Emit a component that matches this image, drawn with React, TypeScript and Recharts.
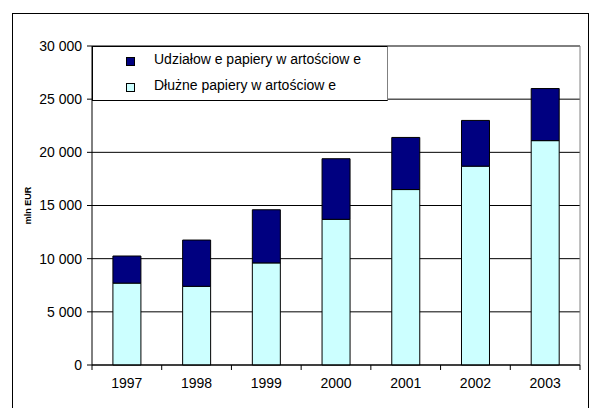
import { BarChart, Bar, XAxis, YAxis, CartesianGrid, Legend, ReferenceLine, Label } from 'recharts'

const years = ['1997', '1998', '1999', '2000', '2001', '2002', '2003']
const debtSecurities = [7700, 7400, 9600, 13700, 16500, 18700, 21100]
const equitySecurities = [2550, 4350, 5000, 5700, 4900, 4300, 4900]
const yTicks = [0, 5000, 10000, 15000, 20000, 25000, 30000]

const debtName = 'Dłużne papiery w artościow e'
const equityName = 'Udziałow e papiery w artościow e'

const data = years.map((year, i) => ({
  year,
  debt: debtSecurities[i],
  equity: equitySecurities[i],
}))

const FONT = '"Liberation Sans", Arial, sans-serif'
const PLOT_LEFT = 92
const PLOT_RIGHT = 580
const BAND = (PLOT_RIGHT - PLOT_LEFT) / years.length
const TICK_SIZE = 5
const TICK_MARGIN = 8

const fmt = (v: number) => String(v).replace(/\B(?=(\d{3})+(?!\d))/g, ' ')

function YearTick(props: any) {
  const { x, y, payload, index } = props
  const axisY = y - TICK_SIZE - TICK_MARGIN
  const left = x - BAND / 2
  return (
    <g>
      <line x1={left} y1={axisY} x2={left} y2={axisY + TICK_SIZE} stroke="#000" />
      {index === years.length - 1 && (
        <line x1={left + BAND} y1={axisY} x2={left + BAND} y2={axisY + TICK_SIZE} stroke="#000" />
      )}
      <text x={x} y={y} dy="0.71em" textAnchor="middle" fontSize={14} fontFamily={FONT} fill="#000">
        {payload.value}
      </text>
    </g>
  )
}

function LegendBox(props: any) {
  const items = [...(props.payload || [])].reverse()
  return (
    <div
      style={{
        width: 296,
        height: 55,
        border: '1px solid #000',
        borderRightColor: '#808080',
        background: '#fff',
        boxSizing: 'border-box',
        fontFamily: FONT,
        fontSize: 14,
        paddingTop: 1,
      }}
    >
      {items.map((it: any) => (
        <div key={it.value} style={{ display: 'flex', alignItems: 'center', height: 22, marginBottom: 4 }}>
          <span
            style={{
              display: 'inline-block',
              width: 7,
              height: 7,
              marginLeft: 33,
              marginTop: 4,
              marginRight: 19,
              background: it.color,
              border: '1px solid #000',
            }}
          />
          <span style={{ color: '#000' }}>{it.value}</span>
        </div>
      ))}
    </div>
  )
}

export default function App() {
  return (
    <div style={{ position: 'absolute', left: 0, top: 0, width: 590, height: 408, background: '#fff', overflow: 'hidden' }}>
      <BarChart
        width={590}
        height={408}
        data={data}
        margin={{ top: 46, right: 10, bottom: 13, left: 12 }}
        barCategoryGap="30%"
      >
        <CartesianGrid horizontal vertical={false} stroke="#000" />
        <CartesianGrid horizontal={false} vertical verticalPoints={[PLOT_RIGHT]} stroke="#808080" />
        <XAxis
          dataKey="year"
          height={30}
          axisLine={{ stroke: '#000' }}
          tickLine={false}
          tickSize={TICK_SIZE}
          tickMargin={TICK_MARGIN}
          tick={<YearTick />}
          interval={0}
        />
        <YAxis
          width={80}
          domain={[0, 30000]}
          ticks={yTicks}
          tickFormatter={fmt}
          axisLine={{ stroke: '#000' }}
          tickLine={{ stroke: '#000' }}
          tickSize={TICK_SIZE}
          tickMargin={5}
          tick={{ fontSize: 14, fontFamily: FONT, fill: '#000' }}
        >
          <Label
            value="mln EUR"
            angle={-90}
            position="insideLeft"
            offset={16}
            style={{ fontSize: 9, fontWeight: 'bold', fontFamily: FONT, fill: '#000', textAnchor: 'middle' }}
          />
        </YAxis>
        <ReferenceLine y={30000} stroke="#808080" />
        <Bar dataKey="debt" name={debtName} stackId="a" fill="#CCFFFF" stroke="#000" strokeWidth={1} isAnimationActive={false} />
        <Bar dataKey="equity" name={equityName} stackId="a" fill="#000080" stroke="#000" strokeWidth={1} isAnimationActive={false} />
        <Legend
          layout="vertical"
          align="center"
          verticalAlign="middle"
          content={<LegendBox />}
          wrapperStyle={{ left: PLOT_LEFT, top: 46, width: 296, height: 55 }}
        />
      </BarChart>
      <div
        style={{
          position: 'absolute',
          left: 12,
          top: 13,
          width: 575,
          height: 420,
          border: '1px solid #000',
          pointerEvents: 'none',
        }}
      />
    </div>
  )
}
